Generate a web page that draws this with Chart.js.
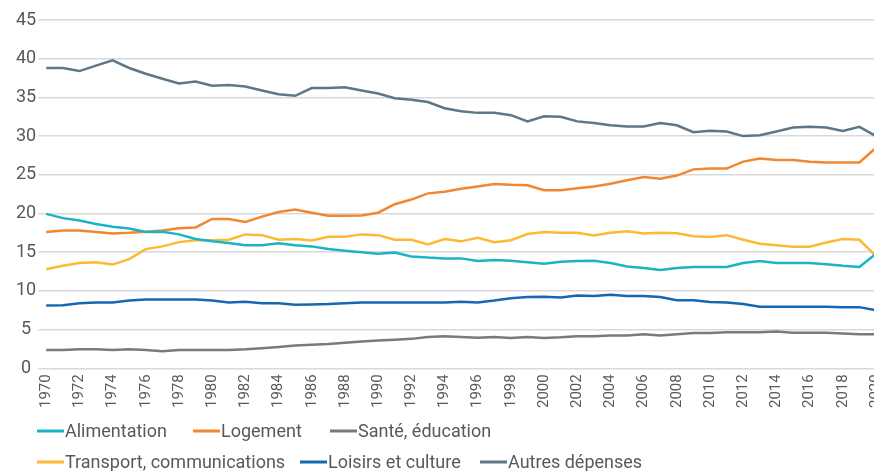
<!DOCTYPE html>
<html>
<head>
<meta charset="utf-8">
<script src="https://cdn.jsdelivr.net/npm/chart.js@4/dist/chart.umd.min.js"></script>
<style>
  html, body { margin: 0; padding: 0; background: #fff; overflow: hidden; }
  #wrap { width: 900px; height: 471px; }
</style>
</head>
<body>
<div id="wrap"><canvas id="chart"></canvas></div>
<script>
// Années
const years = [];
for (let y = 1970; y <= 2020; y++) years.push(String(y));

const alimentation = [
  19.95, 19.4, 19.1, 18.65, 18.3, 18.05, 17.6, 17.65, 17.3, 16.7,
  16.4, 16.2, 15.9, 15.9, 16.15, 15.9, 15.75, 15.4, 15.2, 15.0,
  14.8, 14.95, 14.45, 14.3, 14.2, 14.2, 13.85, 14.0, 13.9, 13.7,
  13.5, 13.75, 13.85, 13.9, 13.6, 13.15, 12.95, 12.7, 12.95, 13.1,
  13.1, 13.1, 13.6, 13.85, 13.6, 13.6, 13.6, 13.45, 13.25, 13.1,
  14.8,
];
const logement = [
  17.6, 17.8, 17.8, 17.6, 17.4, 17.5, 17.65, 17.8, 18.1, 18.2,
  19.3, 19.3, 18.9, 19.6, 20.2, 20.5, 20.1, 19.7, 19.7, 19.75,
  20.1, 21.2, 21.8, 22.6, 22.8, 23.2, 23.5, 23.8, 23.7, 23.65,
  23.0, 23.0, 23.25, 23.5, 23.85, 24.3, 24.7, 24.5, 24.9, 25.7,
  25.8, 25.8, 26.7, 27.1, 26.9, 26.9, 26.7, 26.6, 26.6, 26.6,
  28.5,
];
const sante = [
  2.35, 2.35, 2.45, 2.45, 2.35, 2.45, 2.35, 2.2, 2.35, 2.35,
  2.35, 2.35, 2.45, 2.6, 2.75, 2.95, 3.05, 3.15, 3.3, 3.45,
  3.6, 3.7, 3.8, 4.05, 4.15, 4.05, 3.95, 4.05, 3.9, 4.05,
  3.9, 4.0, 4.15, 4.15, 4.25, 4.25, 4.4, 4.25, 4.4, 4.55,
  4.55, 4.65, 4.65, 4.65, 4.75, 4.6, 4.6, 4.6, 4.5, 4.4,
  4.4,
];
const transport = [
  12.8, 13.25, 13.6, 13.7, 13.4, 14.1, 15.4, 15.75, 16.3, 16.55,
  16.55, 16.6, 17.3, 17.2, 16.6, 16.7, 16.5, 17.0, 17.0, 17.3,
  17.2, 16.6, 16.6, 16.0, 16.7, 16.4, 16.85, 16.3, 16.55, 17.35,
  17.6, 17.5, 17.5, 17.15, 17.5, 17.7, 17.4, 17.5, 17.45, 17.05,
  16.95, 17.2, 16.6, 16.1, 15.9, 15.7, 15.7, 16.25, 16.7, 16.6,
  14.5,
];
const loisirs = [
  8.1, 8.15, 8.4, 8.5, 8.5, 8.75, 8.9, 8.9, 8.9, 8.9,
  8.75, 8.5, 8.6, 8.4, 8.4, 8.2, 8.25, 8.3, 8.4, 8.5,
  8.5, 8.5, 8.5, 8.5, 8.5, 8.6, 8.5, 8.75, 9.05, 9.2,
  9.25, 9.15, 9.4, 9.35, 9.5, 9.35, 9.35, 9.2, 8.8, 8.8,
  8.55, 8.5, 8.3, 7.95, 7.95, 7.95, 7.95, 7.95, 7.9, 7.9,
  7.5,
];
const autres = [
  38.8, 38.8, 38.4, 39.1, 39.8, 38.8, 38.05, 37.4, 36.8, 37.05,
  36.5, 36.6, 36.4, 35.9, 35.4, 35.2, 36.2, 36.2, 36.3, 35.9,
  35.5, 34.9, 34.7, 34.4, 33.6, 33.2, 33.0, 33.0, 32.7, 31.9,
  32.55, 32.5, 31.9, 31.7, 31.4, 31.25, 31.25, 31.7, 31.4, 30.5,
  30.7, 30.6, 30.0, 30.1, 30.6, 31.1, 31.2, 31.1, 30.65, 31.2,
  30.0,
];

const seriesNames = [
  "Alimentation", "Logement", "Santé, éducation",
  "Transport, communications", "Loisirs et culture", "Autres dépenses",
];
const seriesData = [alimentation, logement, sante, transport, loisirs, autres];
const seriesColors = ["#1bb4c6", "#f3872f", "#7f7873", "#fdb933", "#1567b2", "#5d7787"];

// légende dessinée à la main (2 lignes de 3)
const legendPlugin = {
  id: "manualLegend",
  afterDraw(chart) {
    const ctx = chart.ctx;
    const rows = [[0, 1, 2], [3, 4, 5]];
    const rowY = [432, 463];
    const rowX = [[37, 193, 330], [37, 300, 480]];
    ctx.save();
    ctx.font = "18px Roboto";
    ctx.textBaseline = "middle";
    rows.forEach((row, r) => {
      row.forEach((i, k) => {
        const x = rowX[r][k];
        ctx.strokeStyle = seriesColors[i];
        ctx.lineWidth = 3;
        ctx.beginPath();
        ctx.moveTo(x, rowY[r] - 1);
        ctx.lineTo(x + 27, rowY[r] - 1);
        ctx.stroke();
        ctx.fillStyle = "#595959";
        ctx.fillText(seriesNames[i], x + 28, rowY[r]);
      });
    });
    ctx.restore();
  },
};

new Chart(document.getElementById("chart").getContext("2d"), {
  type: "line",
  data: {
    labels: years,
    datasets: seriesNames.map((name, i) => ({
      label: name,
      data: seriesData[i],
      borderColor: seriesColors[i],
      backgroundColor: seriesColors[i],
      borderWidth: 2.5,
      pointRadius: 0,
      tension: 0,
    })),
  },
  options: {
    responsive: true,
    maintainAspectRatio: false,
    animation: false,
    layout: { padding: { top: 20, left: 14, right: 0, bottom: 57 } },
    plugins: {
      legend: { display: false },
      tooltip: { enabled: false },
    },
    scales: {
      x: {
        grid: { display: false, drawTicks: false },
        border: { display: false },
        ticks: {
          autoSkip: false,
          maxRotation: 90,
          minRotation: 90,
          padding: 6,
          color: "#595959",
          font: { family: "Roboto", size: 15 },
          callback: (v, i) => (i % 2 === 0 ? years[i] : ""),
        },
      },
      y: {
        min: 0,
        max: 45,
        grid: { color: "#d9d9d9", lineWidth: 1.5, tickLength: 8 },
        border: { display: false },
        ticks: {
          stepSize: 5,
          padding: 2,
          crossAlign: "center",
          color: "#595959",
          font: { family: "Roboto", size: 18 },
        },
      },
    },
  },
  plugins: [legendPlugin],
});
</script>
</body>
</html>
